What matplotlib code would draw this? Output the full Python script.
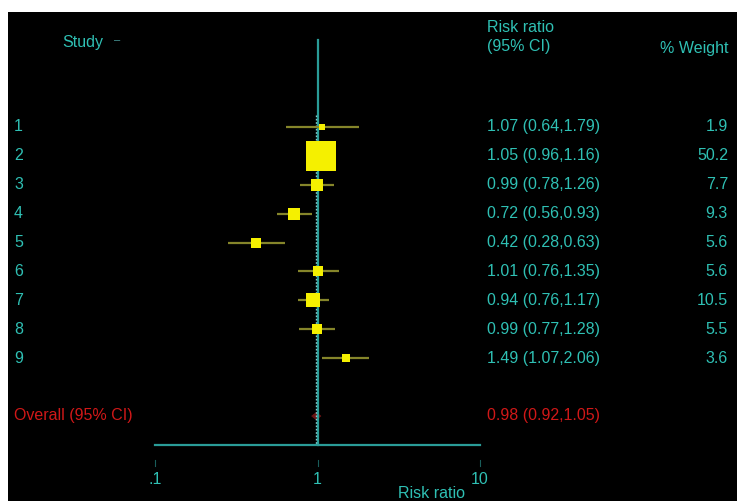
import matplotlib
matplotlib.use("Agg")
import matplotlib.pyplot as plt
from matplotlib import transforms
from matplotlib.patches import Polygon
import numpy as np

# Study-level results (risk ratio with 95% CI) and weights
studies = ["1", "2", "3", "4", "5", "6", "7", "8", "9"]
rr = [1.07, 1.05, 0.99, 0.72, 0.42, 1.01, 0.94, 0.99, 1.49]
lo = [0.64, 0.96, 0.78, 0.56, 0.28, 0.76, 0.76, 0.77, 1.07]
hi = [1.79, 1.16, 1.26, 0.93, 0.63, 1.35, 1.17, 1.28, 2.06]
weight = [1.9, 50.2, 7.7, 9.3, 5.6, 5.6, 10.5, 5.5, 3.6]

overall_rr, overall_lo, overall_hi = 0.98, 0.92, 1.05
xticks = [0.1, 1, 10]
xtick_labels = [".1", "1", "10"]

W, H = 737, 501
CYAN = "#2fc0b4"
LINE = "#2a9c98"
OLIVE = "#85852a"
YELLOW = "#f5f000"
RED = "#d01818"

plt.rcParams["font.family"] = ["Liberation Sans", "DejaVu Sans"]

fig = plt.figure(figsize=(W / 100, H / 100), dpi=100, facecolor="white")


def fx(px):
    return px / W


def fy(py):
    return 1 - py / H


# black background panel
bg = fig.add_axes([fx(8), 0, 1 - fx(8), fy(12)], zorder=-1)
bg.set_facecolor("black")
bg.set_xticks([])
bg.set_yticks([])
for s in bg.spines.values():
    s.set_visible(False)

# plotting region: x from .1 to 10 on a log scale, rows top to bottom
ax_l, ax_r, ax_t, ax_b = 155, 480, 40, 445
ax = fig.add_axes([fx(ax_l), fy(ax_b), fx(ax_r) - fx(ax_l), (ax_b - ax_t) / H], zorder=1)
ax.set_facecolor("none")
ax.set_xscale("log")
ax.set_xlim(0.1, 10)
ax.set_ylim(12, -2)
for s in ax.spines.values():
    s.set_visible(False)
ax.set_xticks([])
ax.set_yticks([])
ax.minorticks_off()

rows = np.arange(1, len(studies) + 1)
overall_row = 11
fs = 11.5

# x axis line and detached tick marks
ax.plot([xticks[0], xticks[-1]], [12, 12], color=LINE, lw=1.6, clip_on=False)
tick_tr = transforms.blended_transform_factory(ax.transData, fig.transFigure)
for t, lab in zip(xticks, xtick_labels):
    ax.plot([t, t], [fy(460), fy(466)], color=LINE, lw=0.8, transform=tick_tr, clip_on=False, alpha=0.6)
    ax.text(t, fy(480), lab, transform=tick_tr, color=CYAN, fontsize=fs, ha="center", va="center")
fig.text(fx(432), fy(493), "Risk ratio", color=CYAN, fontsize=fs, ha="center", va="center")

# line of no effect and overall estimate line
ax.plot([1, 1], [-2, 12], color=LINE, lw=1.6, clip_on=False)
ax.plot([overall_rr, overall_rr], [0.6, 12], color="#7fd0d0", lw=1.0, ls=(0, (1.2, 1.2)))

# confidence intervals and weighted boxes
for r, m, l, h, w in zip(rows, rr, lo, hi, weight):
    ax.plot([l, h], [r, r], color=OLIVE, lw=1.6, solid_capstyle="butt", zorder=2)
    side = 4.1 * np.sqrt(w)  # box side in pixels, area proportional to weight
    ax.plot([m], [r], marker="s", ms=side * 0.72, color=YELLOW, mec=YELLOW, mew=0, zorder=3)

# overall diamond
d = 0.12
ax.add_patch(Polygon([[overall_lo, overall_row], [overall_rr, overall_row - d],
                      [overall_hi, overall_row], [overall_rr, overall_row + d]],
                     closed=True, facecolor="#6a1414", edgecolor="#6a1414", lw=0.5))

# text columns
row_tr = transforms.blended_transform_factory(fig.transFigure, ax.transData)
for r, s, m, l, h, w in zip(rows, studies, rr, lo, hi, weight):
    ax.text(fx(14), r + 0.15, s, transform=row_tr, color=CYAN, fontsize=fs, ha="left", va="baseline")
    ax.text(fx(487), r + 0.15, f"{m:.2f} ({l:.2f},{h:.2f})", transform=row_tr, color=CYAN,
            fontsize=fs, ha="left", va="baseline")
    ax.text(fx(728), r + 0.15, f"{w:.1f}", transform=row_tr, color=CYAN, fontsize=fs,
            ha="right", va="baseline")

ax.text(fx(14), overall_row + 0.15, "Overall (95% CI)", transform=row_tr, color=RED, fontsize=fs,
        ha="left", va="baseline")
ax.text(fx(487), overall_row + 0.15, f"{overall_rr:.2f} ({overall_lo:.2f},{overall_hi:.2f})",
        transform=row_tr, color=RED, fontsize=fs, ha="left", va="baseline")

# headers
fig.text(fx(62), fy(42), "Study", color=CYAN, fontsize=fs, ha="left", va="center")
fig.text(fx(114), fy(40), "\u2013", color="#4a9a9a", fontsize=8, ha="left", va="center")
fig.text(fx(487), fy(27), "Risk ratio", color=CYAN, fontsize=fs, ha="left", va="center")
fig.text(fx(487), fy(47), "(95% CI)", color=CYAN, fontsize=fs, ha="left", va="center")
fig.text(fx(728), fy(48), "% Weight", color=CYAN, fontsize=fs, ha="right", va="center")

fig.savefig("out.png", dpi=100, facecolor="white")
